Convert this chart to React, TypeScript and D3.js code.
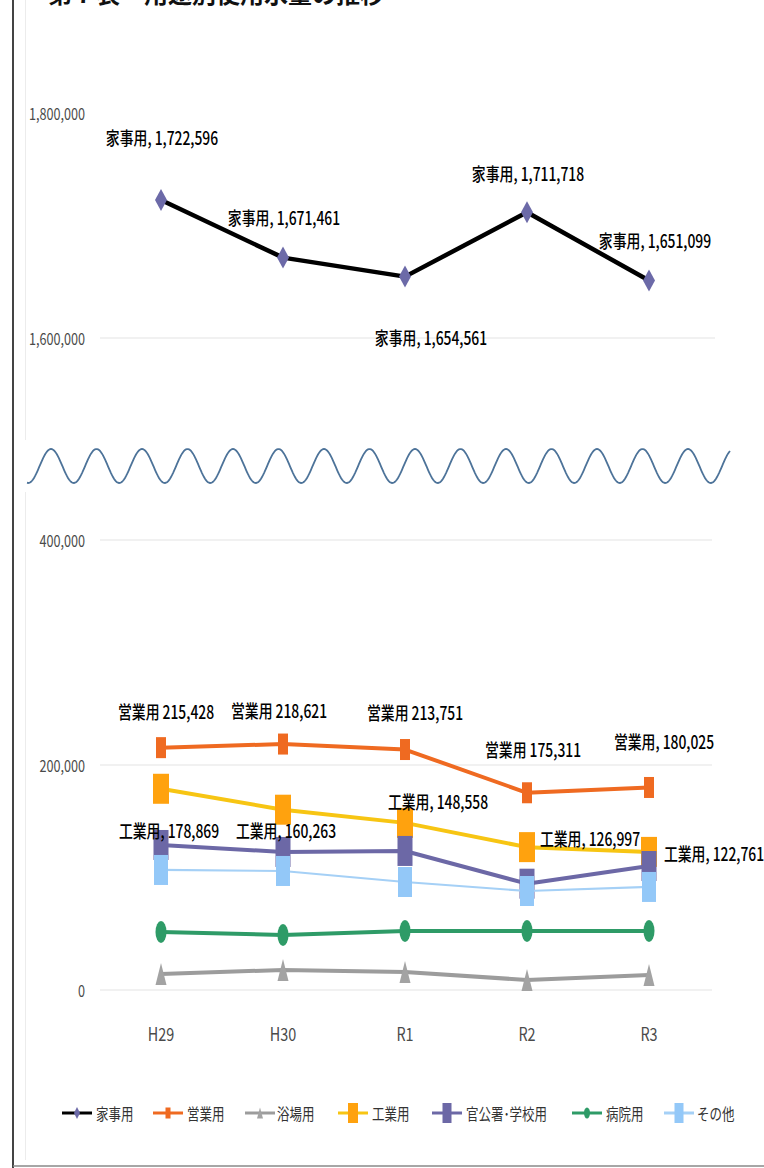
import React from 'react';
import * as d3 from 'd3';

const categories = ['H29', 'H30', 'R1', 'R2', 'R3'];
const kajiyo = [1722596, 1671461, 1654561, 1711718, 1651099];
const eigyo = [215428, 218621, 213751, 175311, 180025];
const yokujo = [14200, 17800, 16000, 8900, 13300];
const kogyo = [178869, 160263, 148558, 126997, 122761];
const kankosho = [128900, 122700, 123600, 94500, 110200];
const byoin = [51600, 48900, 52400, 52400, 52500];
const sonota = [106700, 105800, 96000, 88000, 91600];
const upperTicks = [1600000, 1800000];
const lowerTicks = [0, 200000, 400000];
const seriesNames = ['家事用', '営業用', '浴場用', '工業用', '官公署･学校用', '病院用', 'その他'];

// label layout offsets (dx, dy) relative to each point
const kajiyoLabelOffsets = [[1, -63], [1, -40], [26, 61], [1, -39], [6, -40]];
const eigyoLabelOffsets = [[5, -36], [-4, -34], [10, -37], [6, -44], [15, -46]];
const kogyoLabelOffsets = [[8, 41], [3, 20], [33, -22], [63, -9], [65, 1]];
const eigyoLabelSep = [' ', ' ', ' ', ' ', ', '];

const W = 764;
const H = 1168;
const FONT = "'Noto Sans CJK JP', 'Noto Sans', sans-serif";
const SX = 0.77;

const x = d3.scalePoint<string>().domain(categories).range([100, 710]).padding(0.5);
const yU = d3.scaleLinear().domain([1600000, 1800000]).range([338, 113]);
const yL = d3.scaleLinear().domain([0, 400000]).range([990, 540]);
const fmt = d3.format(',');

type Marker = 'diamond' | 'rect' | 'tri' | 'ellipse';
interface Series {
  name: string;
  values: number[];
  line: string;
  fill: string;
  lw: number;
  marker: Marker;
  mw: number;
  mh: number;
}

const lowerSeries: Series[] = [
  { name: seriesNames[1], values: eigyo, line: '#EF6A21', fill: '#EF6A21', lw: 4, marker: 'rect', mw: 10, mh: 21 },
  { name: seriesNames[2], values: yokujo, line: '#9C9C9C', fill: '#A3A3A3', lw: 4, marker: 'tri', mw: 11, mh: 22 },
  { name: seriesNames[3], values: kogyo, line: '#F7C513', fill: '#FFA20E', lw: 4, marker: 'rect', mw: 16, mh: 30 },
  { name: seriesNames[4], values: kankosho, line: '#6C68A6', fill: '#6C68A6', lw: 4, marker: 'rect', mw: 15, mh: 30 },
  { name: seriesNames[5], values: byoin, line: '#2E9B67', fill: '#2E9B67', lw: 4, marker: 'ellipse', mw: 11, mh: 22 },
  { name: seriesNames[6], values: sonota, line: '#A5D0F6', fill: '#93C8F8', lw: 2.2, marker: 'rect', mw: 14, mh: 30 },
];

function MarkerShape({ m, cx, cy, w, h, fill }: { m: Marker; cx: number; cy: number; w: number; h: number; fill: string }) {
  if (m === 'diamond') {
    return <path d={`M${cx},${cy - h / 2}L${cx + w / 2},${cy}L${cx},${cy + h / 2}L${cx - w / 2},${cy}Z`} fill={fill} />;
  }
  if (m === 'tri') {
    return <path d={`M${cx},${cy - h / 2}L${cx + w / 2},${cy + h / 2}L${cx - w / 2},${cy + h / 2}Z`} fill={fill} />;
  }
  if (m === 'ellipse') {
    return <ellipse cx={cx} cy={cy} rx={w / 2} ry={h / 2} fill={fill} />;
  }
  return <rect x={cx - w / 2} y={cy - h / 2} width={w} height={h} fill={fill} />;
}

function Label({ x0, y0, text, size = 18, fill = '#000' }: { x0: number; y0: number; text: string; size?: number; fill?: string }) {
  return (
    <text
      transform={`translate(${x0},${y0}) scale(${SX},1)`}
      textAnchor="middle"
      dominantBaseline="central"
      fontSize={size}
      fontWeight={500}
      fontFamily={FONT}
      fill={fill}
    >
      {text}
    </text>
  );
}

export default function App() {
  const lineU = d3.line<number>().x((_, i) => x(categories[i])!).y((v) => yU(v));
  const lineL = d3.line<number>().x((_, i) => x(categories[i])!).y((v) => yL(v));

  // decorative break wave
  const wavePts: [number, number][] = d3.range(27, 731, 1).map((px) => [px, 466 - 17 * Math.cos((2 * Math.PI * (px - 51)) / 45.5)]);
  const wave = d3.line()(wavePts) || '';

  const legendItems = [
    { line: '#000', fill: '#6C6AA8', m: 'diamond' as Marker, w: 6, h: 12, lx: 62, tx: 96 },
    { line: '#EF6A21', fill: '#EF6A21', m: 'rect' as Marker, w: 5, h: 11, lx: 153, tx: 187 },
    { line: '#9C9C9C', fill: '#A3A3A3', m: 'tri' as Marker, w: 6, h: 11, lx: 245, tx: 277 },
    { line: '#F7C513', fill: '#FFA20E', m: 'rect' as Marker, w: 10, h: 20, lx: 338, tx: 372 },
    { line: '#6C68A6', fill: '#6C68A6', m: 'rect' as Marker, w: 9, h: 20, lx: 432, tx: 466 },
    { line: '#2E9B67', fill: '#2E9B67', m: 'ellipse' as Marker, w: 6, h: 11, lx: 572, tx: 606 },
    { line: '#A5D0F6', fill: '#93C8F8', m: 'rect' as Marker, w: 9, h: 20, lx: 664, tx: 697 },
  ];

  return (
    <svg width={W} height={H} style={{ position: 'absolute', left: 0, top: 0, background: '#fff' }}>
      <rect x={0} y={0} width={W} height={H} fill="#fff" />
      {/* title, mostly cut off at the top edge as in the source image */}
      <text x={48} y={3} fontSize={24} fontWeight="bold" fontFamily={FONT} fill="#111">
        第７表　用途別使用水量の推移
      </text>
      {/* frame */}
      <line x1={13} x2={13} y1={0} y2={H} stroke="#444" strokeWidth={2} />
      <line x1={13} x2={W} y1={1166} y2={1166} stroke="#888" strokeWidth={1.5} />
      <line x1={25.5} x2={25.5} y1={0} y2={440} stroke="#ececec" strokeWidth={1} />
      <line x1={25.5} x2={25.5} y1={492} y2={1160} stroke="#ececec" strokeWidth={1} />

      {/* gridlines */}
      {[1600000].map((t) => (
        <line key={t} x1={100} x2={715} y1={yU(t)} y2={yU(t)} stroke="#e4e4e4" strokeWidth={1.2} />
      ))}
      {lowerTicks.map((t) => (
        <line key={t} x1={100} x2={712} y1={yL(t)} y2={yL(t)} stroke="#e4e4e4" strokeWidth={1.2} />
      ))}

      {/* y tick labels */}
      {upperTicks.map((t) => (
        <text key={t} transform={`translate(85,${yU(t)}) scale(0.79,1)`} textAnchor="end" dominantBaseline="central" fontSize={16} fontFamily={FONT} fill="#4a4a4a">
          {fmt(t)}
        </text>
      ))}
      {lowerTicks.map((t) => (
        <text key={t} transform={`translate(85,${yL(t)}) scale(0.79,1)`} textAnchor="end" dominantBaseline="central" fontSize={16} fontFamily={FONT} fill="#4a4a4a">
          {fmt(t)}
        </text>
      ))}

      {/* x tick labels */}
      {categories.map((c) => (
        <text key={c} transform={`translate(${x(c)},1033) scale(0.8,1)`} textAnchor="middle" dominantBaseline="central" fontSize={18} fontFamily={FONT} fill="#4a4a4a">
          {c}
        </text>
      ))}

      {/* wave break */}
      <path d={wave} fill="none" stroke="#4D7399" strokeWidth={1.8} />

      {/* upper series: 家事用 */}
      <path d={lineU(kajiyo) || ''} fill="none" stroke="#000" strokeWidth={4.5} strokeLinejoin="round" />
      {kajiyo.map((v, i) => (
        <MarkerShape key={i} m="diamond" cx={x(categories[i])!} cy={yU(v)} w={12} h={22} fill="#6C6AA8" />
      ))}
      {kajiyo.map((v, i) => (
        <Label key={i} x0={x(categories[i])! + kajiyoLabelOffsets[i][0]} y0={yU(v) + kajiyoLabelOffsets[i][1]} text={`${seriesNames[0]}, ${fmt(v)}`} />
      ))}

      {/* lower series */}
      {lowerSeries.map((s) => (
        <g key={s.name}>
          <path d={lineL(s.values) || ''} fill="none" stroke={s.line} strokeWidth={s.lw} strokeLinejoin="round" />
          {s.values.map((v, i) => (
            <MarkerShape key={i} m={s.marker} cx={x(categories[i])!} cy={yL(v)} w={s.mw} h={s.mh} fill={s.fill} />
          ))}
        </g>
      ))}

      {eigyo.map((v, i) => (
        <Label key={'e' + i} x0={x(categories[i])! + eigyoLabelOffsets[i][0]} y0={yL(v) + eigyoLabelOffsets[i][1]} text={`${seriesNames[1]}${eigyoLabelSep[i]}${fmt(v)}`} />
      ))}
      {kogyo.map((v, i) => (
        <Label key={'k' + i} x0={x(categories[i])! + kogyoLabelOffsets[i][0]} y0={yL(v) + kogyoLabelOffsets[i][1]} text={`${seriesNames[3]}, ${fmt(v)}`} />
      ))}

      {/* legend */}
      {legendItems.map((it, i) => (
        <g key={i}>
          <line x1={it.lx} x2={it.lx + 30} y1={1113} y2={1113} stroke={it.line} strokeWidth={3} />
          <MarkerShape m={it.m} cx={it.lx + 15} cy={1113} w={it.w} h={it.h} fill={it.fill} />
          <text transform={`translate(${it.tx},1113) scale(0.78,1)`} dominantBaseline="central" fontSize={16} fontFamily={FONT} fill="#333">
            {seriesNames[i]}
          </text>
        </g>
      ))}
    </svg>
  );
}
